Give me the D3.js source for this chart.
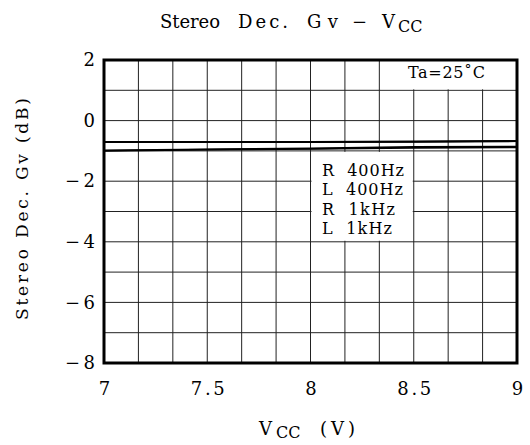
<!DOCTYPE html>
<html><head><meta charset="utf-8">
<script src="https://cdn.jsdelivr.net/npm/d3@7"></script>
<style>body{margin:0;background:#fff}svg{display:block}text{font-family:"DejaVu Serif","Liberation Serif",serif;fill:#000}</style>
</head><body>
<script>
const vcc = [7, 7.5, 8, 8.5, 9];
const seriesNames = ["R 400Hz", "L 400Hz", "R 1kHz", "L 1kHz"];
const r400 = [-0.71, -0.71, -0.71, -0.70, -0.68];
const l400 = [-0.70, -0.70, -0.70, -0.69, -0.67];
const r1k = [-1.00, -0.96, -0.93, -0.90, -0.88];
const l1k = [-0.98, -0.95, -0.92, -0.87, -0.86];
const xTicks = [7, 7.5, 8, 8.5, 9];
const yTicks = [-8, -6, -4, -2, 0, 2];

const FF = '"DejaVu Serif","Liberation Serif",serif';
const W = 530, H = 445;
const svg = d3.select("body").append("svg").attr("width", W).attr("height", H);
const x = d3.scaleLinear().domain([7, 9]).range([104, 517]);
const y = d3.scaleLinear().domain([-8, 2]).range([363, 60]);

// grid
const gx = d3.range(1, 12).map(i => 7 + i / 6);
const gy = d3.range(-7, 2, 1);
svg.append("g").selectAll("line").data(gx).join("line")
  .attr("x1", d => x(d)).attr("x2", d => x(d)).attr("y1", y(2)).attr("y2", y(-8))
  .attr("stroke", "#222").attr("stroke-width", 1);
svg.append("g").selectAll("line").data(gy).join("line")
  .attr("x1", x(7)).attr("x2", x(9)).attr("y1", d => y(d)).attr("y2", d => y(d))
  .attr("stroke", "#222").attr("stroke-width", 1);

// white boxes
svg.append("rect").attr("x", x(8) + 1).attr("y", y(-1) + 1)
  .attr("width", x(8.5) - x(8) - 2).attr("height", y(-4) - y(-1) - 2).attr("fill", "#fff");
svg.append("rect").attr("x", x(7 + 8 / 6) + 1).attr("y", y(2))
  .attr("width", x(9) - x(7 + 8 / 6) - 1).attr("height", y(1) - y(2) - 1).attr("fill", "#fff");

// data lines
const line = d3.line().x((d, i) => x(vcc[i])).y(d => y(d));
const allSeries = [r400, l400, r1k, l1k];
svg.append("g").selectAll("path").data(allSeries).join("path")
  .attr("d", line).attr("fill", "none").attr("stroke", "#000").attr("stroke-width", 1.8);

// frame
svg.append("rect").attr("x", x(7)).attr("y", y(2)).attr("width", x(9) - x(7)).attr("height", y(-8) - y(2))
  .attr("fill", "none").attr("stroke", "#000").attr("stroke-width", 3);

// axes
const fmt = d => (d < 0 ? "\u2212" + Math.abs(d) : String(d));
const ax = svg.append("g").attr("transform", `translate(0,${y(-8)})`)
  .call(d3.axisBottom(x).tickValues(xTicks).tickSize(0).tickPadding(19).tickFormat(fmt));
ax.select(".domain").remove();
ax.selectAll("text").attr("font-size", 18).attr("font-family", FF).attr("fill", "#000")
  .each(function (d) { if (!Number.isInteger(d)) d3.select(this).attr("textLength", 34).attr("lengthAdjust", "spacing"); });
const ay = svg.append("g").attr("transform", `translate(${x(7)},0)`)
  .call(d3.axisLeft(y).tickValues(yTicks).tickSize(0).tickPadding(9).tickFormat(fmt));
ay.select(".domain").remove();
ay.selectAll("text").attr("font-size", 18).attr("font-family", FF).attr("fill", "#000")
  .each(function (d) { if (d < 0) d3.select(this).attr("textLength", 30).attr("lengthAdjust", "spacing"); });

// legend
const legW = [82, 81, 73, 70];
svg.append("g").selectAll("text").data(seriesNames).join("text")
  .attr("x", 322).attr("y", (d, i) => 176 + i * 19.3)
  .attr("font-size", 16).style("white-space", "pre")
  .attr("textLength", (d, i) => legW[i]).attr("lengthAdjust", "spacing")
  .text(d => d.replace(" ", "  "));

svg.append("text").attr("x", 408).attr("y", 78).attr("font-size", 16)
  .attr("textLength", 77).attr("lengthAdjust", "spacing")
  .text("Ta=25\u02DAC");

// title
const t = svg.append("g").attr("font-size", 18);
const titleParts = [["Stereo", 160, 60], ["Dec.", 238, 50], ["Gv", 307, 31], ["\u2212", 352, 18], ["V", 382, 15]];
titleParts.forEach(([s, px, w]) => t.append("text").attr("x", px).attr("y", 28)
  .attr("textLength", w).attr("lengthAdjust", "spacing").text(s));
t.append("text").attr("x", 398).attr("y", 32).attr("font-size", 16).text("CC");

// x label
const xl = svg.append("g").attr("font-size", 18);
xl.append("text").attr("x", 259).attr("y", 435).text("V");
xl.append("text").attr("x", 276).attr("y", 438).attr("font-size", 16).text("CC");
xl.append("text").attr("x", 320).attr("y", 435).attr("textLength", 35).attr("lengthAdjust", "spacing").text("(V)");

// y label
svg.append("text").attr("transform", "translate(28,209) rotate(-90)")
  .attr("text-anchor", "middle").attr("font-size", 17)
  .attr("textLength", 222).attr("lengthAdjust", "spacing")
  .style("white-space", "pre").text("Stereo Dec. Gv (dB)");
</script>
</body></html>
